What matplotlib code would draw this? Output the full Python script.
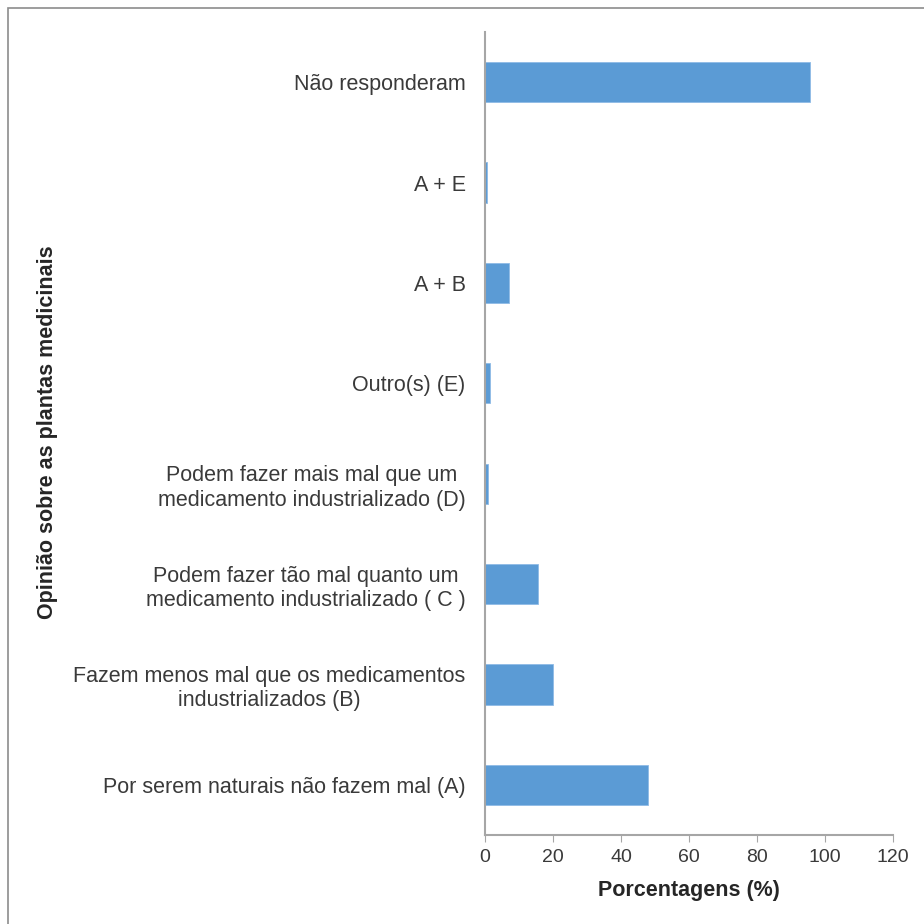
import matplotlib
matplotlib.use("Agg")
import matplotlib.pyplot as plt
from matplotlib.patches import Rectangle

plt.rcParams['font.family'] = ['Liberation Sans', 'DejaVu Sans']

# opinions, bottom to top
opinioes = [
    "Por serem naturais não fazem mal (A)",
    "Fazem menos mal que os medicamentos\nindustrializados (B)",
    "Podem fazer tão mal quanto um\nmedicamento industrializado ( C )",
    "Podem fazer mais mal que um\nmedicamento industrializado (D)",
    "Outro(s) (E)",
    "A + B",
    "A + E",
    "Não responderam",
]
porcentagens = [48.0, 19.9, 15.7, 0.8, 1.6, 7.0, 0.7, 95.5]

fig = plt.figure(figsize=(9.24, 9.24), dpi=100)
ax = fig.add_axes([485/924, 1 - 835/924, 408/924, 803/924])

ax.barh(range(len(opinioes)), porcentagens, height=0.4, color="#5b9bd5",
        edgecolor="#8fbbe6", linewidth=0.6)

ax.set_ylim(-0.5, len(opinioes) - 0.5)
ax.set_xlim(0, 120)
ax.set_xticks(range(0, 121, 20))
ax.set_yticks(range(len(opinioes)))
ax.set_yticklabels(opinioes, ha="right", multialignment="center", linespacing=1.22)
ax.tick_params(axis="y", length=0, pad=14, labelsize=15.5, colors="#3a3a3a")
ax.tick_params(axis="x", length=5, color="#a6a6a6", labelsize=14, colors="#3a3a3a", pad=5)

for side in ["top", "right"]:
    ax.spines[side].set_visible(False)
for side in ["left", "bottom"]:
    ax.spines[side].set_color("#a6a6a6")
    ax.spines[side].set_linewidth(1.5)

ax.set_xlabel("Porcentagens (%)", fontsize=15.5, fontweight="bold", color="#262626", labelpad=10)
fig.text(48/924, 1 - 432/924, "Opinião sobre as plantas medicinais", rotation=90,
         ha="center", va="center", fontsize=15.5, fontweight="bold", color="#262626")

# outer chart frame
fig.patches.append(Rectangle((8/924, -0.1), 1.1, 1.1 - 8/924, transform=fig.transFigure,
                             fill=False, edgecolor="#8c8c8c", linewidth=1.2))

fig.savefig("out.png", dpi=100, facecolor="white")
